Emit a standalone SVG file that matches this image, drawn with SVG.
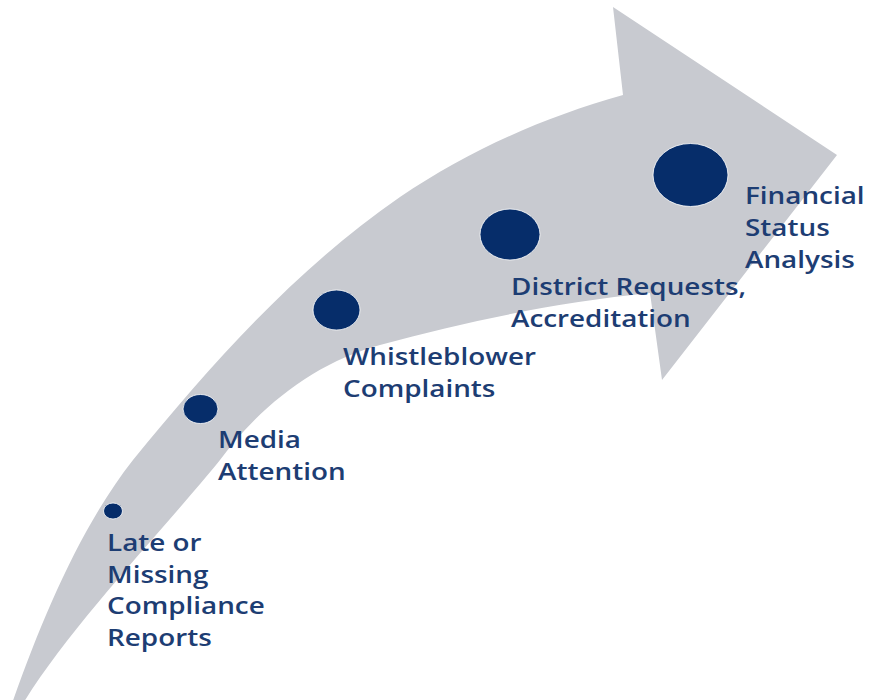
<svg xmlns="http://www.w3.org/2000/svg" width="874" height="700" viewBox="0 0 874 700">
  <style>
    .band { fill: #c8cad0; }
    .dot { fill: #062d6a; stroke: #ffffff; stroke-width: 1; stroke-opacity: 0.8; }
    .label { font-family: "Open Sans", "Noto Sans", "Liberation Sans", sans-serif; font-size: 24px; font-weight: 600; fill: #1d3d73; }
  </style>
  <rect width="874" height="700" fill="#ffffff"/>

  <!-- curved progression arrow -->
  <g id="arrow">
    <path class="band" d="M 9,712 C 39,626 78,530 133,460 C 212,363 297,268 400,197 C 468,151 544,117 623,95 L 613,7 L 837,155 L 662,380 L 650,293 C 558,302 469,321 380,345 C 316,362 259,407 220,460 C 167,526 64,632 18,712 Z"/>
  </g>

  <g id="late-missing-reports">
    <ellipse class="dot" cx="113" cy="511" rx="9.5" ry="8"/>
    <text class="label" transform="translate(107,551) scale(1.16,1)">
      <tspan x="0" y="0">Late or</tspan>
      <tspan x="0" y="31.6">Missing</tspan>
      <tspan x="0" y="63.2">Compliance</tspan>
      <tspan x="0" y="94.8">Reports</tspan>
    </text>
  </g>

  <g id="media-attention">
    <ellipse class="dot" cx="200.5" cy="409" rx="17.5" ry="14.5"/>
    <text class="label" transform="translate(218,448) scale(1.16,1)">
      <tspan x="0" y="0">Media</tspan>
      <tspan x="0" y="32">Attention</tspan>
    </text>
  </g>

  <g id="whistleblower-complaints">
    <ellipse class="dot" cx="336.5" cy="310" rx="23.5" ry="20"/>
    <text class="label" transform="translate(343,365) scale(1.16,1)">
      <tspan x="0" y="0">Whistleblower</tspan>
      <tspan x="0" y="32">Complaints</tspan>
    </text>
  </g>

  <g id="district-requests">
    <ellipse class="dot" cx="510" cy="234.5" rx="30" ry="25.5"/>
    <text class="label" transform="translate(511,295) scale(1.16,1)">
      <tspan x="0" y="0">District Requests,</tspan>
      <tspan x="0" y="32">Accreditation</tspan>
    </text>
  </g>

  <g id="financial-status">
    <ellipse class="dot" cx="690.5" cy="175" rx="37.5" ry="31.5"/>
    <text class="label" transform="translate(745,204) scale(1.16,1)">
      <tspan x="0" y="0">Financial</tspan>
      <tspan x="0" y="32">Status</tspan>
      <tspan x="0" y="64">Analysis</tspan>
    </text>
  </g>
</svg>
